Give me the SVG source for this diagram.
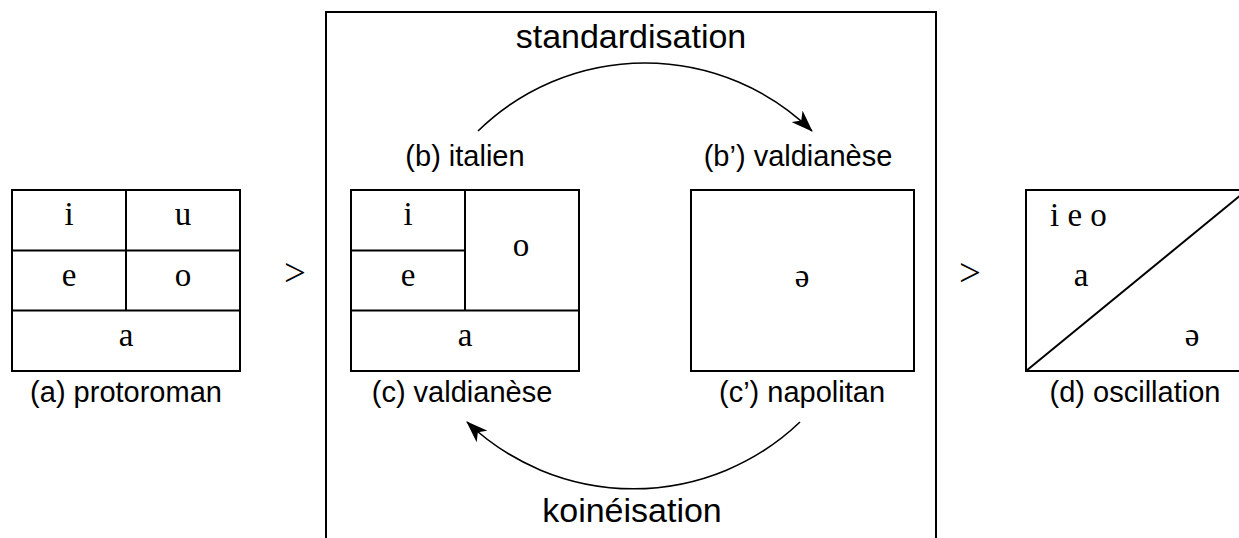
<svg xmlns="http://www.w3.org/2000/svg" width="1239" height="538" viewBox="0 0 1239 538">
<defs>
<style>
.box{fill:none;stroke:#000;stroke-width:2}
.ln{stroke:#000;stroke-width:2;fill:none}
.arc{fill:none;stroke:#000;stroke-width:1.6}
.v{font-family:"Liberation Serif","DejaVu Serif",serif;font-size:33px;text-anchor:middle;fill:#000}
.vs{font-family:"Liberation Serif","DejaVu Serif",serif;font-size:33px;text-anchor:start;fill:#000}
.lbl{font-family:"Liberation Sans",Arial,sans-serif;font-size:29px;text-anchor:middle;fill:#000}
.gt{font-family:"Liberation Serif","DejaVu Serif",serif;font-size:39px;text-anchor:middle;fill:#000}
.ttl{font-family:"Liberation Sans",Arial,sans-serif;font-size:34px;text-anchor:middle;fill:#000}
</style>
<marker id="ah" viewBox="0 0 22 16" refX="21" refY="8" markerWidth="22" markerHeight="16" markerUnits="userSpaceOnUse" orient="auto">
<path d="M0,0 L22,8 L0,16 L6,8 z" fill="#000"/>
</marker>
</defs>
<rect width="1239" height="538" fill="#fff"/>

<g id="frame">
<rect class="box" x="326" y="12" width="610" height="560"/>
</g>

<g id="a-protoroman">
<rect class="box" x="12" y="190" width="228" height="181"/>
<line class="ln" x1="12" y1="250.5" x2="240" y2="250.5"/>
<line class="ln" x1="12" y1="310.5" x2="240" y2="310.5"/>
<line class="ln" x1="126" y1="190" x2="126" y2="310.5"/>
<text class="v" x="69" y="225">i</text>
<text class="v" x="183" y="225">u</text>
<text class="v" x="69" y="286">e</text>
<text class="v" x="183" y="286">o</text>
<text class="v" x="126" y="346">a</text>
<text class="lbl" x="126" y="402">(a) protoroman</text>
</g>

<g id="gt1"><text class="gt" x="295" y="286">&gt;</text></g>

<g id="b-italien">
<text class="lbl" x="465" y="166">(b) italien</text>
</g>

<g id="b2-valdianese">
<text class="lbl" x="798" y="166">(b’) valdianèse</text>
</g>

<g id="c-valdianese">
<rect class="box" x="351" y="190" width="228" height="181"/>
<line class="ln" x1="351" y1="250.5" x2="465" y2="250.5"/>
<line class="ln" x1="351" y1="310.5" x2="579" y2="310.5"/>
<line class="ln" x1="465" y1="190" x2="465" y2="310.5"/>
<text class="v" x="408" y="225">i</text>
<text class="v" x="408" y="286">e</text>
<text class="v" x="521" y="256">o</text>
<text class="v" x="465" y="346">a</text>
<text class="lbl" x="462" y="402">(c) valdianèse</text>
</g>

<g id="c2-napolitan">
<rect class="box" x="691" y="190" width="223" height="181"/>
<text class="v" x="802" y="287">ə</text>
<text class="lbl" x="802" y="402">(c’) napolitan</text>
</g>

<g id="gt2"><text class="gt" x="970" y="286">&gt;</text></g>

<g id="d-oscillation">
<rect class="box" x="1026" y="190" width="221" height="181"/>
<line class="ln" x1="1026" y1="371" x2="1247" y2="190"/>
<text class="vs" x="1050" y="226">i e o</text>
<text class="v" x="1081" y="286">a</text>
<text class="v" x="1192" y="346">ə</text>
<text class="lbl" x="1135" y="402">(d) oscillation</text>
</g>

<g id="connectors">
<path class="arc" d="M478,131 A239,239 0 0 1 812,131" marker-end="url(#ah)"/>
<text class="ttl" x="631" y="48">standardisation</text>
<path class="arc" d="M800,422 A241,241 0 0 1 467,422" marker-end="url(#ah)"/>
<text class="ttl" x="632" y="522">koinéisation</text>
</g>
</svg>
